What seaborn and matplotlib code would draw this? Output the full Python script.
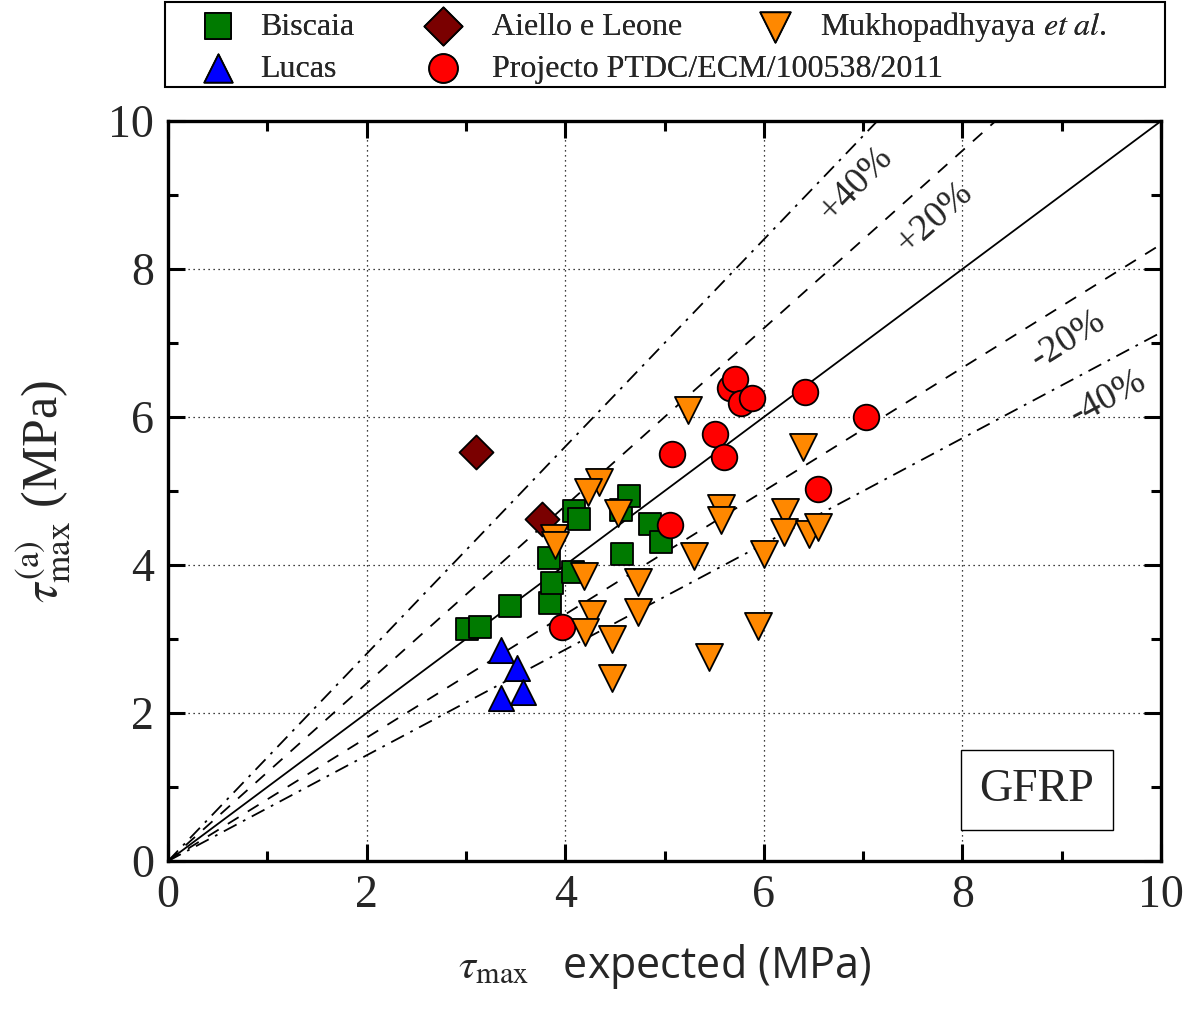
import numpy as np
import pandas as pd
import matplotlib
matplotlib.use("Agg")
import matplotlib.pyplot as plt
import seaborn as sns
from matplotlib.ticker import MultipleLocator
from matplotlib.patches import Rectangle

# ---------------- data ----------------
biscaia_x = [3.01, 3.14, 3.44, 3.85, 3.87, 3.84, 4.08, 4.09, 4.14, 4.57, 4.85, 4.96, 4.56, 4.64]
biscaia_y = [3.14, 3.16, 3.45, 3.49, 3.76, 4.09, 3.91, 4.73, 4.62, 4.15, 4.55, 4.31, 4.74, 4.93]

aiello_x = [3.10, 3.77]
aiello_y = [5.53, 4.62]

mukh_x = [4.34, 4.23, 4.53, 3.89, 3.90, 4.19, 4.73, 4.27, 4.73, 4.20, 4.47, 4.47,
          5.45, 5.30, 5.24, 5.57, 5.57, 6.00, 5.94, 6.39, 6.21, 6.20, 6.45, 6.55]
mukh_y = [5.12, 4.99, 4.70, 4.36, 4.27, 3.85, 3.77, 3.34, 3.36, 3.09, 3.00, 2.47,
          2.76, 4.12, 6.09, 4.77, 4.61, 4.15, 3.18, 5.59, 4.72, 4.45, 4.42, 4.52]

lucas_x = [3.35, 3.51, 3.35, 3.57]
lucas_y = [2.85, 2.61, 2.20, 2.28]

proj_x = [3.97, 5.05, 5.07, 5.51, 5.60, 5.66, 5.71, 5.77, 5.88, 6.41, 7.03, 6.55]
proj_y = [3.16, 4.54, 5.50, 5.77, 5.46, 6.39, 6.51, 6.19, 6.26, 6.34, 6.00, 5.03]

series_names = ["Biscaia", "Lucas", "Aiello e Leone",
                "Projecto PTDC/ECM/100538/2011", "Mukhopadhyaya et al."]
legend_labels = ["Biscaia", "Lucas", "Aiello e Leone",
                 "Projecto PTDC/ECM/100538/2011", r"Mukhopadhyaya $\it{et\ al}$."]
series_colors = ["#007a00", "#0000ff", "#7a0000", "#ff0000", "#ff8800"]
series_markers = ["s", "^", "D", "o", "v"]
series_sizes = [260, 330, 300, 340, 380]

# ---------------- build table ----------------
frames = []
for name, xs, ys in zip(series_names,
                        [biscaia_x, lucas_x, aiello_x, proj_x, mukh_x],
                        [biscaia_y, lucas_y, aiello_y, proj_y, mukh_y]):
    frames.append(pd.DataFrame({"x": xs, "y": ys, "series": name}))
df = pd.concat(frames, ignore_index=True)

sns.set_theme(style="white")
plt.rcParams["mathtext.fontset"] = "stix"
plt.rcParams["font.family"] = ["Liberation Serif", "DejaVu Serif"]

W, H = 1186, 1010
fig = plt.figure(figsize=(W / 100, H / 100), dpi=100)
ax = fig.add_axes([0.1417, 0.1475, 0.8373, 0.7327])

# reference lines
xx = np.array([0.0, 10.0])
ax.plot(xx, xx * 1.0, color="black", lw=1.3, zorder=2)
ax.plot(xx, xx * 1.2, color="black", lw=1.3, ls=(0, (7, 6)), zorder=2)
ax.plot(xx, xx / 1.2, color="black", lw=1.3, ls=(0, (7, 6)), zorder=2)
ax.plot(xx, xx * 1.4, color="black", lw=1.3, ls=(0, (8, 4, 1.5, 4)), zorder=2)
ax.plot(xx, xx / 1.4, color="black", lw=1.3, ls=(0, (8, 4, 1.5, 4)), zorder=2)

# scatter, one call per series to control marker sizes
for name, col, mk, sz in zip(series_names, series_colors, series_markers, series_sizes):
    sub = df[df["series"] == name]
    sns.scatterplot(data=sub, x="x", y="y", ax=ax, color=col, marker=mk, s=sz,
                    edgecolor="black", linewidth=1.3, zorder=3, label=name,
                    legend=True)

ax.set_xlim(0, 10)
ax.set_ylim(0, 10)
ax.xaxis.set_major_locator(MultipleLocator(2))
ax.yaxis.set_major_locator(MultipleLocator(2))
ax.xaxis.set_minor_locator(MultipleLocator(1))
ax.yaxis.set_minor_locator(MultipleLocator(1))
ax.tick_params(which="both", direction="in", top=True, right=True,
               bottom=True, left=True, width=2.2, color="black")
ax.tick_params(which="major", length=12, labelsize=33, pad=10)
ax.tick_params(which="minor", length=7)
for s in ax.spines.values():
    s.set_linewidth(2.4)
    s.set_color("black")
ax.grid(True, which="major", color="black", ls=(0, (1, 3)), lw=0.9)
ax.set_axisbelow(True)

# labels
ax.set_xlabel(r"$\tau_{\mathrm{max}}$   expected (MPa)", fontsize=31,
              family=["Open Sans", "DejaVu Sans"], labelpad=18)
ax.set_ylabel(r"$\tau_{\mathrm{max}}^{\mathrm{(a)}}$ (MPa)", fontsize=36,
              family=["Liberation Serif", "DejaVu Serif"], labelpad=26)

# percent labels
ax.text(6.92, 9.14, "+40%", rotation=46, fontsize=27, ha="center", va="center")
ax.text(7.72, 8.69, "+20%", rotation=42, fontsize=27, ha="center", va="center")
ax.text(9.06, 7.04, "-20%", rotation=32, fontsize=27, ha="center", va="center")
ax.text(9.47, 6.26, "-40%", rotation=28, fontsize=27, ha="center", va="center")

# GFRP box
ax.text(8.75, 0.96, "GFRP", fontsize=33, ha="center", va="center",
        bbox=dict(boxstyle="square,pad=0.4", fc="white", ec="black", lw=1.0))

# legend: one entry per slot, laid out in a framed grid above the axes
handles, labels = ax.get_legend_handles_labels()
if ax.legend_:
    ax.legend_.remove()
hmap = dict(zip(labels, handles))
slots = {  # marker centre x, text start x, centre y (px from top)
    "Biscaia": (218, 260, 27),
    "Lucas": (218, 260, 69),
    "Aiello e Leone": (443, 492, 27),
    "Projecto PTDC/ECM/100538/2011": (443, 492, 69),
    "Mukhopadhyaya et al.": (775, 820, 27),
}
fs = 23
fs_px = fs * 100 / 72
hl = 1.0
for name, lab in zip(series_names, legend_labels):
    mx, tx, my = slots[name]
    anchor_x = (mx - hl * fs_px / 2) / W
    anchor_y = 1 - my / H
    pad = (tx - mx - hl * fs_px / 2) / fs_px
    lg = fig.legend([hmap[name]], [lab], loc="center left",
                    bbox_to_anchor=(anchor_x, anchor_y), frameon=False,
                    fontsize=fs, handlelength=hl, handletextpad=pad,
                    borderpad=0.0, borderaxespad=0.0, markerscale=1.12)
    fig.add_artist(lg)

fig.add_artist(Rectangle((165 / W, 1 - 87 / H), 1000 / W, 85 / H,
                         transform=fig.transFigure, fill=False,
                         edgecolor="black", lw=1.5))

fig.savefig("out.png", dpi=100)
